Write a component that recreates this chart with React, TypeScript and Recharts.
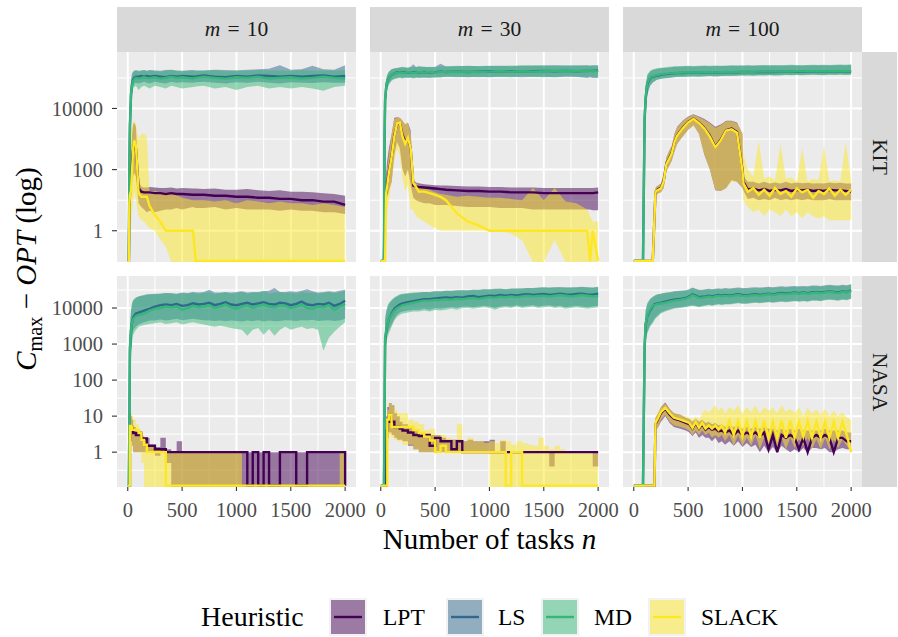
import React from "react";
import { ComposedChart, Area, Line, XAxis, YAxis, CartesianGrid } from "recharts";

// ---------------- data: KIT, m = 10 ----------------
const kit10N = [1, 10, 15, 20, 30, 40, 50, 60, 75, 100, 125, 150, 175, 200, 250, 300, 350, 400, 450, 500, 600, 625, 700, 800, 900, 1000, 1100, 1200, 1300, 1400, 1500, 1600, 1700, 1800, 1900, 2000];
const kit10MdMid = [0, 0, 200, 3000, 30000, 60000, 80000, 90000, 100000, 95000, 100000, 105000, 100000, 98000, 105000, 95000, 100000, 110000, 100000, 105000, 95000, 100000, 110000, 100000, 95000, 105000, 100000, 110000, 95000, 100000, 105000, 95000, 100000, 110000, 100000, 95000];
const kit10MdLo = [0, 0, 50, 800, 12000, 30000, 45000, 50000, 55000, 40000, 50000, 55000, 50000, 45000, 55000, 50000, 45000, 55000, 50000, 45000, 50000, 52000, 55000, 45000, 50000, 40000, 50000, 55000, 45000, 50000, 45000, 50000, 45000, 38000, 50000, 55000];
const kit10MdHi = [0, 0, 1000, 10000, 80000, 140000, 160000, 170000, 170000, 160000, 170000, 180000, 165000, 175000, 170000, 160000, 175000, 180000, 170000, 165000, 175000, 170000, 170000, 180000, 165000, 175000, 170000, 180000, 175000, 175000, 170000, 180000, 175000, 175000, 170000, 180000];
const kit10LsMid = [0, 0, 150, 2500, 28000, 65000, 90000, 100000, 110000, 110000, 115000, 110000, 115000, 110000, 115000, 110000, 105000, 115000, 110000, 115000, 110000, 112000, 120000, 110000, 105000, 115000, 110000, 120000, 115000, 110000, 115000, 110000, 115000, 120000, 110000, 115000];
const kit10LsLo = [0, 0, 50, 700, 12000, 35000, 55000, 65000, 70000, 65000, 70000, 75000, 70000, 65000, 75000, 70000, 65000, 75000, 70000, 72000, 70000, 72000, 75000, 70000, 65000, 72000, 70000, 75000, 70000, 65000, 72000, 70000, 68000, 72000, 70000, 70000];
const kit10LsHi = [0, 0, 900, 9000, 75000, 140000, 160000, 170000, 180000, 170000, 175000, 180000, 170000, 180000, 175000, 170000, 180000, 185000, 175000, 170000, 180000, 175000, 175000, 185000, 180000, 175000, 185000, 190000, 200000, 260000, 185000, 190000, 250000, 190000, 185000, 260000];
const kit10LptMid = [0, 0, 5, 15, 60, 200, 500, 700, 500, 25, 19, 18, 18, 18, 17, 17, 16, 17, 16, 16, 15, 15, 15, 14, 14, 13, 13, 12, 12, 11, 11, 10, 10, 9, 9, 7];
const kit10LptLo = [0, 0, 2, 5, 20, 40, 60, 80, 60, 8, 6, 5, 4, 4.5, 4, 4.5, 5, 5, 5.5, 5, 6, 5.5, 5.5, 6, 5, 5.5, 5, 5, 5, 4.5, 5, 4.5, 4.5, 4, 4, 3.5];
const kit10LptHi = [0, 0, 20, 60, 300, 1500, 3000, 3500, 2500, 40, 28, 26, 26, 27, 26, 25, 25, 26, 24, 25, 24, 24, 23, 24, 22, 22, 23, 21, 20, 21, 19, 19, 18, 17, 16, 14];
const kit10SlackMid = [0, 0, 8, 15, 20, 100, 500, 900, 600, 17, 13, 13, 13, 6.5, 3.2, 2, 1, 1, 1, 1, 1, 0, 0, 0, 0, 0, 0, 0, 0, 0, 0, 0, 0, 0, 0, 0];
const kit10SlackLo = [0, 0, 0.5, 1, 2, 5, 10, 20, 10, 3, 2.2, 2, 1.5, 1.2, 1, 0.5, 0.3, 0, 0, 0, 0, 0, 0, 0, 0, 0, 0, 0, 0, 0, 0, 0, 0, 0, 0, 0];
const kit10SlackHi = [0, 0, 500, 1000, 2000, 2500, 3500, 4000, 3000, 1000, 1500, 1500, 1200, 20, 20, 18, 18, 17, 15, 12, 10, 10, 10, 9, 10, 8, 10, 9, 8, 9, 8, 8, 7, 8, 7, 6];

// ---------------- data: KIT, m = 30 ----------------
const kit30N = [1, 30, 35, 40, 50, 60, 75, 100, 125, 150, 175, 200, 225, 250, 275, 300, 325, 350, 400, 450, 500, 550, 600, 700, 800, 900, 1000, 1100, 1200, 1300, 1400, 1500, 1600, 1700, 1800, 1900, 1925, 1950, 2000];
const kit30MdMid = [0, 0, 1000, 20000, 50000, 80000, 100000, 130000, 140000, 145000, 150000, 145000, 150000, 155000, 150000, 145000, 150000, 155000, 150000, 155000, 150000, 155000, 160000, 155000, 160000, 155000, 160000, 165000, 160000, 165000, 160000, 165000, 170000, 165000, 170000, 165000, 170000, 165000, 170000];
const kit30MdLo = [0, 0, 300, 8000, 25000, 45000, 60000, 80000, 90000, 95000, 100000, 95000, 100000, 105000, 100000, 95000, 100000, 105000, 100000, 105000, 100000, 105000, 110000, 105000, 110000, 105000, 110000, 110000, 105000, 115000, 110000, 105000, 110000, 115000, 110000, 110000, 115000, 110000, 110000];
const kit30MdHi = [0, 0, 3000, 50000, 90000, 130000, 160000, 190000, 200000, 210000, 220000, 230000, 220000, 215000, 225000, 220000, 230000, 240000, 225000, 230000, 220000, 235000, 240000, 250000, 240000, 245000, 250000, 245000, 255000, 250000, 260000, 255000, 250000, 260000, 255000, 250000, 255000, 260000, 250000];
const kit30LsMid = [0, 0, 900, 18000, 48000, 78000, 100000, 128000, 140000, 150000, 150000, 150000, 155000, 150000, 150000, 150000, 155000, 150000, 155000, 150000, 155000, 160000, 155000, 160000, 155000, 160000, 165000, 160000, 165000, 160000, 165000, 170000, 165000, 170000, 165000, 170000, 170000, 170000, 175000];
const kit30LsLo = [0, 0, 300, 7000, 24000, 45000, 65000, 85000, 95000, 100000, 105000, 100000, 105000, 100000, 105000, 100000, 105000, 100000, 105000, 100000, 110000, 105000, 110000, 110000, 105000, 110000, 105000, 110000, 110000, 105000, 110000, 110000, 105000, 110000, 110000, 100000, 105000, 100000, 100000];
const kit30LsHi = [0, 0, 3000, 45000, 90000, 125000, 160000, 190000, 205000, 210000, 220000, 225000, 220000, 215000, 230000, 280000, 225000, 235000, 230000, 225000, 230000, 290000, 235000, 240000, 250000, 240000, 245000, 250000, 240000, 255000, 250000, 255000, 260000, 250000, 255000, 260000, 250000, 255000, 260000];
const kit30LptMid = [0, 0, 5, 10, 17, 35, 90, 280, 1300, 3000, 3400, 1400, 800, 1000, 500, 30, 28, 27, 26, 25, 24, 23, 22, 21, 20, 20, 19, 19, 18, 18, 18, 17, 17, 17, 17, 17, 17, 17, 18];
const kit30LptLo = [0, 0, 2, 4, 8, 13, 20, 40, 300, 800, 500, 100, 60, 100, 30, 12, 10, 9, 8, 8, 7, 7, 7, 6.5, 6, 6, 6, 5.5, 5.5, 5.5, 5, 5, 5, 5, 5, 5, 5, 4.7, 4.7];
const kit30LptHi = [0, 0, 20, 40, 80, 200, 500, 1500, 5000, 5200, 5000, 4000, 3000, 3500, 1900, 45, 38, 36, 33, 32, 31, 30, 30, 29, 28, 28, 27, 27, 26, 26, 26, 25, 25, 25, 25, 25, 25, 25, 26];
const kit30SlackMid = [0, 0, 0, 0, 17, 30, 80, 260, 1200, 3200, 3500, 1200, 700, 1100, 500, 36, 27, 19, 19, 17, 15, 12.8, 10, 3.7, 2, 1.5, 1, 1, 1, 1, 1, 1, 1, 1, 1, 1, 0, 1, 0];
const kit30SlackLo = [0, 0, 0, 0, 2, 5, 10, 40, 200, 500, 300, 50, 20, 30, 5, 4.7, 3, 2.5, 2, 1.5, 1.2, 1, 1, 1, 1, 1, 1, 1, 0.8, 0.5, 0, 0, 0.5, 0, 0, 0, 0, 0, 0];
const kit30SlackHi = [0, 0, 0, 5, 30, 100, 300, 1500, 4500, 5000, 5000, 4000, 3000, 3500, 1500, 40, 36, 30, 25, 22, 18, 16, 15, 13, 14, 13, 12, 12, 11, 10, 25, 10, 25, 9, 8, 5, 3, 2, 2];

// ---------------- data: KIT, m = 100 ----------------
const kit100N = [1, 85, 100, 110, 125, 150, 175, 200, 210, 225, 250, 275, 300, 325, 350, 375, 400, 450, 500, 550, 600, 650, 700, 750, 800, 850, 900, 950, 1000, 1010, 1050, 1100, 1150, 1200, 1250, 1300, 1350, 1400, 1450, 1500, 1550, 1600, 1650, 1700, 1750, 1800, 1850, 1900, 1950, 2000];
const kit100MdMid = [0, 0, 5000, 25000, 70000, 100000, 115000, 120000, 122000, 125000, 130000, 135000, 138000, 140000, 142000, 145000, 147000, 150000, 150000, 152000, 150000, 153000, 155000, 152000, 155000, 157000, 155000, 158000, 160000, 158000, 160000, 158000, 162000, 160000, 163000, 160000, 162000, 165000, 162000, 165000, 163000, 165000, 167000, 165000, 163000, 167000, 165000, 168000, 165000, 170000];
const kit100MdLo = [0, 0, 1500, 8000, 30000, 55000, 70000, 80000, 85000, 88000, 92000, 95000, 98000, 100000, 102000, 105000, 107000, 110000, 110000, 112000, 110000, 113000, 115000, 112000, 115000, 117000, 115000, 118000, 120000, 118000, 120000, 118000, 122000, 120000, 123000, 120000, 122000, 125000, 122000, 125000, 123000, 125000, 127000, 125000, 123000, 127000, 125000, 128000, 125000, 130000];
const kit100MdHi = [0, 0, 15000, 60000, 130000, 170000, 190000, 200000, 205000, 210000, 215000, 220000, 225000, 230000, 235000, 240000, 240000, 245000, 250000, 245000, 250000, 255000, 250000, 255000, 250000, 255000, 260000, 255000, 260000, 255000, 260000, 255000, 260000, 265000, 260000, 265000, 260000, 265000, 270000, 265000, 260000, 265000, 270000, 265000, 270000, 265000, 270000, 275000, 270000, 280000];
const kit100LsMid = [0, 0, 4500, 22000, 65000, 95000, 110000, 115000, 118000, 120000, 125000, 130000, 133000, 135000, 138000, 140000, 143000, 145000, 146000, 148000, 147000, 150000, 150000, 149000, 151000, 152000, 151000, 153000, 155000, 154000, 155000, 154000, 157000, 156000, 158000, 156000, 158000, 160000, 158000, 160000, 159000, 161000, 162000, 160000, 160000, 162000, 161000, 163000, 162000, 165000];
const kit100LsLo = [0, 0, 1400, 7500, 28000, 55000, 72000, 82000, 87000, 90000, 94000, 97000, 100000, 102000, 104000, 106000, 108000, 110000, 112000, 113000, 112000, 114000, 116000, 114000, 116000, 118000, 117000, 119000, 121000, 120000, 121000, 120000, 123000, 122000, 124000, 122000, 123000, 126000, 124000, 126000, 125000, 126000, 128000, 127000, 125000, 128000, 127000, 129000, 127000, 130000];
const kit100LsHi = [0, 0, 14000, 55000, 120000, 160000, 180000, 190000, 195000, 200000, 205000, 210000, 215000, 220000, 225000, 230000, 232000, 235000, 240000, 238000, 242000, 245000, 242000, 246000, 244000, 247000, 250000, 248000, 250000, 248000, 252000, 250000, 253000, 255000, 252000, 256000, 253000, 256000, 258000, 256000, 254000, 257000, 260000, 258000, 260000, 258000, 261000, 263000, 260000, 265000];
const kit100LptMid = [0, 0, 0, 0, 0, 0, 0, 19, 20, 23, 25, 42, 160, 230, 360, 820, 1350, 2300, 3600, 4600, 3400, 2300, 1300, 560, 950, 1950, 2200, 1700, 100, 40, 22, 24, 21, 23, 20, 22, 21, 23, 20, 22, 21, 22, 20, 21, 20, 22, 21, 21, 20, 19];
const kit100LptLo = [0, 0, 0, 0, 0, 0, 0, 14, 15, 17, 18, 25, 90, 130, 200, 400, 700, 1200, 2000, 2800, 1500, 300, 100, 21, 20, 25, 45, 40, 25, 20, 11, 12, 10, 11, 10, 12, 10, 11, 10, 11, 10, 11, 10, 10, 10, 11, 10, 10, 10, 10];
const kit100LptHi = [0, 0, 0, 0, 0, 0, 0, 25, 28, 30, 35, 70, 250, 400, 600, 1500, 2500, 4000, 5500, 6500, 5500, 4500, 3500, 2500, 3000, 4000, 4000, 3500, 1500, 60, 40, 40, 35, 40, 35, 38, 35, 40, 35, 38, 36, 37, 35, 36, 35, 38, 36, 37, 35, 35];
const kit100SlackMid = [0, 0, 0, 0, 0, 0, 0, 19, 20, 22, 24, 40, 150, 220, 340, 800, 1300, 2200, 3500, 4500, 3300, 2200, 1200, 540, 900, 1900, 2100, 1600, 90, 35, 19, 25, 15, 22, 14, 25, 16, 20, 13, 24, 18, 22, 12, 20, 16, 24, 14, 22, 15, 22];
const kit100SlackLo = [0, 0, 0, 0, 0, 0, 0, 14, 15, 16, 18, 25, 90, 130, 200, 400, 700, 1200, 2000, 2800, 1500, 300, 100, 22, 20, 25, 40, 40, 25, 10, 6, 4, 5, 3, 5, 4, 3, 5, 3, 4, 2.5, 4, 3, 2.5, 3, 2.2, 2.2, 2.2, 2.2, 2.2];
const kit100SlackHi = [0, 0, 0, 0, 0, 0, 0, 25, 27, 30, 33, 65, 240, 380, 580, 1400, 2400, 3800, 5200, 6200, 5200, 4200, 3300, 2300, 2800, 3800, 3800, 3300, 1600, 300, 100, 60, 900, 50, 60, 45, 700, 50, 55, 40, 500, 40, 50, 45, 600, 40, 45, 40, 800, 45];

// ---------------- data: NASA, m = 10 ----------------
const nasa10N = [1, 10, 20, 30, 40, 50, 75, 100, 125, 150, 175, 200, 250, 300, 350, 400, 450, 500, 550, 600, 650, 700, 750, 800, 850, 900, 950, 1000, 1050, 1100, 1150, 1200, 1250, 1300, 1350, 1400, 1450, 1500, 1550, 1600, 1650, 1700, 1750, 1800, 1850, 1900, 1950, 2000];
const nasa10MdMid = [0, 0, 800, 2500, 4000, 5000, 6000, 6500, 6500, 7000, 7500, 8500, 9500, 10000, 11000, 10500, 11000, 9000, 10000, 11500, 10500, 11000, 12000, 10000, 11000, 12500, 10500, 9500, 11000, 12000, 10000, 11500, 12500, 11000, 10500, 12000, 11500, 10000, 11000, 12500, 10000, 9500, 11000, 10500, 12000, 9000, 11000, 13000];
const nasa10MdLo = [0, 0, 100, 600, 1200, 1800, 2500, 3000, 3200, 3400, 3500, 3600, 3800, 4000, 3600, 3800, 4000, 3500, 3800, 4000, 3700, 3500, 3200, 3000, 3200, 3000, 2800, 2600, 2500, 1700, 2500, 2800, 1800, 2600, 1700, 2500, 3000, 2500, 2800, 3000, 2600, 2800, 2500, 650, 1500, 2200, 3000, 4000];
const nasa10MdHi = [0, 0, 3000, 9000, 14000, 17000, 20000, 21000, 22000, 22000, 23000, 24000, 24000, 25000, 26000, 25000, 24000, 26000, 25000, 27000, 25000, 26000, 28000, 24000, 26000, 27000, 25000, 26000, 28000, 25000, 27000, 26000, 30000, 25000, 27000, 28000, 26000, 27000, 25000, 28000, 26000, 27000, 25000, 26000, 28000, 26000, 27000, 30000];
const nasa10LsMid = [0, 0, 700, 2300, 4200, 5500, 7000, 7500, 8000, 8500, 9000, 9500, 11000, 12000, 12500, 12000, 13000, 11500, 12000, 13500, 12500, 13000, 14000, 12000, 13000, 14500, 12500, 12000, 13000, 14000, 12500, 13500, 14500, 13000, 12500, 14000, 13500, 12000, 13000, 15000, 12500, 12000, 13000, 12500, 14000, 11500, 13000, 16000];
const nasa10LsLo = [0, 0, 100, 500, 1500, 2500, 3000, 3500, 3800, 4000, 4200, 4500, 4500, 4800, 4500, 4700, 5000, 4600, 4800, 5000, 4800, 4600, 4500, 4400, 4500, 4300, 4500, 4400, 4200, 4500, 4300, 4600, 4200, 4500, 4300, 4400, 4600, 4500, 4400, 4600, 4500, 4700, 4400, 4500, 4600, 4400, 4500, 5000];
const nasa10LsHi = [0, 0, 2500, 8000, 13000, 16000, 19000, 21000, 22000, 23000, 24000, 24000, 25000, 25000, 26000, 26000, 25000, 27000, 26000, 28000, 27000, 28000, 32000, 27000, 27000, 28000, 27000, 28000, 29000, 27000, 28000, 28000, 29000, 30000, 36000, 28000, 28000, 29000, 28000, 30000, 33000, 29000, 27000, 28000, 29000, 28000, 30000, 32000];
const nasa10LptMid = [0, 0, 5, 5, 4.2, 3.4, 3, 3.4, 2.4, 2.4, 1.5, 1.5, 1.2, 1.2, 1, 1, 1, 1, 1, 1, 1, 1, 1, 1, 1, 1, 1, 1, 1, 0, 1, 0, 1, 0, 0, 1, 1, 1, 0, 0, 1, 1, 1, 1, 1, 1, 1, 0];
const nasa10LptLo = [0, 0, 2, 2, 1.5, 1, 1, 1, 1, 1, 1, 1, 0.8, 1, 0.5, 0, 0, 0, 0, 0, 0, 0, 0, 0, 0, 0, 0, 0, 0, 0, 0, 0, 0, 0, 0, 0, 0, 0, 0, 0, 0, 0, 0, 0, 0, 0, 0, 0];
const nasa10LptHi = [0, 0, 12, 10, 8, 5, 3.5, 3, 2.7, 2.5, 2.5, 1.6, 1.4, 2.5, 1.2, 1, 2, 1, 1, 1, 1, 1, 1, 1, 1, 1, 1, 1, 1, 1, 1, 1, 1, 1, 1, 1, 1, 1, 1, 1, 1, 1, 1, 1, 1, 1, 1, 1];
const nasa10SlackMid = [0, 0, 5.3, 5, 4.2, 4.2, 4.2, 3.4, 2.2, 1.6, 1, 1, 1, 1, 0, 0, 0, 0, 0, 0, 0, 0, 0, 0, 0, 0, 0, 0, 0, 0, 0, 0, 0, 0, 0, 0, 0, 0, 0, 0, 0, 0, 0, 0, 0, 0, 0, 0];
const nasa10SlackLo = [0, 0, 2, 2, 1.5, 1, 1, 1, 0.5, 0, 0, 0, 0, 0, 0, 0, 0, 0, 0, 0, 0, 0, 0, 0, 0, 0, 0, 0, 0, 0, 0, 0, 0, 0, 0, 0, 0, 0, 0, 0, 0, 0, 0, 0, 0, 0, 0, 0];
const nasa10SlackHi = [0, 0, 15, 12, 10, 8, 6, 4.2, 3, 2, 1.5, 1.5, 1.2, 1, 1, 1, 1, 1, 1, 1, 1, 1, 1, 1, 1, 1, 1, 1, 0, 0, 0, 0, 0, 0, 0, 0, 0, 0, 0, 0, 0, 0, 0, 0, 0, 0, 1, 1];

// ---------------- data: NASA, m = 30 ----------------
const nasa30N = [1, 30, 40, 50, 60, 75, 100, 125, 150, 175, 200, 250, 300, 350, 400, 450, 500, 550, 600, 650, 700, 750, 800, 850, 900, 950, 1000, 1050, 1100, 1150, 1200, 1250, 1300, 1350, 1400, 1450, 1500, 1550, 1600, 1650, 1700, 1750, 1800, 1850, 1900, 1950, 2000];
const nasa30MdMid = [0, 0, 1500, 2400, 3500, 5000, 6500, 8500, 10000, 11000, 12000, 13000, 14000, 15000, 16000, 16000, 16700, 17000, 17500, 17000, 18000, 17500, 18500, 19000, 18000, 19000, 20000, 19500, 20500, 20000, 21000, 20000, 21000, 22000, 21000, 21500, 22000, 21000, 22000, 23000, 22000, 21000, 22000, 23000, 22000, 21000, 22000];
const nasa30MdLo = [0, 0, 400, 900, 1500, 2000, 3000, 4500, 5700, 6500, 7000, 7500, 8000, 8000, 8500, 8000, 8800, 8500, 9000, 9500, 9000, 9800, 10000, 9500, 10000, 10500, 10000, 9000, 10000, 10500, 10000, 11000, 10000, 10500, 11000, 10000, 10500, 11000, 10000, 10500, 9500, 10000, 10500, 10000, 9500, 10000, 10500];
const nasa30MdHi = [0, 0, 5000, 8000, 11000, 14000, 17000, 20000, 22000, 24000, 25000, 26000, 27000, 27000, 28000, 27000, 29000, 28000, 30000, 29000, 30000, 31000, 30000, 32000, 31000, 33000, 32000, 33000, 34000, 33000, 35000, 34000, 35000, 36000, 35000, 36000, 37000, 36000, 37000, 38000, 37000, 36000, 37000, 38000, 37000, 36000, 38000];
const nasa30LsMid = [0, 0, 1200, 2200, 3300, 5000, 7000, 9500, 11000, 12500, 13500, 14500, 15500, 16500, 17500, 17500, 18500, 19000, 19500, 19000, 20000, 19500, 21000, 21500, 20000, 21000, 22000, 21500, 23000, 22000, 23000, 22500, 23500, 24000, 23000, 24000, 24500, 23000, 24000, 25000, 24000, 23500, 24500, 25000, 24000, 23500, 25000];
const nasa30LsLo = [0, 0, 500, 1000, 1800, 2500, 3500, 5000, 6500, 7500, 8000, 8500, 9000, 9000, 9500, 9000, 9800, 9500, 10000, 10500, 10000, 10800, 11000, 10500, 11000, 11500, 11000, 10000, 11000, 11500, 11000, 12000, 11000, 11500, 12000, 11000, 11500, 12000, 11000, 11500, 10500, 11000, 11500, 11000, 10500, 11000, 11500];
const nasa30LsHi = [0, 0, 4500, 7500, 10000, 13000, 16000, 19000, 21000, 23000, 24000, 25000, 26000, 27000, 28000, 28000, 29000, 29000, 30000, 30000, 31000, 31000, 31000, 32000, 32000, 33000, 33000, 34000, 34000, 33000, 34000, 35000, 35000, 36000, 36000, 37000, 38000, 37000, 38000, 38000, 37000, 38000, 38000, 39000, 38000, 37000, 39000];
const nasa30LptMid = [0, 0, 0, 4, 7, 10, 7, 5, 5, 4.5, 4, 3.5, 3, 2.8, 3, 1.5, 2.5, 2, 2, 1.2, 2, 1, 1, 1, 1, 1, 1, 1, 1, 1, 1, 1, 1, 1, 1, 1, 1, 1, 1, 1, 1, 1, 1, 1, 1, 1, 1];
const nasa30LptLo = [0, 0, 0, 1.5, 2.5, 3.5, 3, 2.5, 2.2, 2.2, 2, 1.5, 1.2, 1, 1, 1, 1, 1, 1, 1, 1, 1, 1, 1, 1, 1, 1, 1, 1, 1, 1, 1, 1, 1, 1, 1, 1, 0.4, 1, 1, 1, 1, 1, 1, 1, 0.4, 1];
const nasa30LptHi = [0, 0, 0, 10, 18, 23, 20, 12, 10, 7, 6, 5, 4, 3.5, 3, 3, 3, 2.5, 2.2, 2.2, 2.2, 2, 2.2, 2, 2, 2, 2.2, 1, 2, 1, 1, 1, 1, 1, 1, 1, 1, 1, 1, 1, 1, 1, 1, 1, 1, 1, 1];
const nasa30SlackMid = [0, 0, 0, 0, 8, 10.6, 5, 5, 5, 5, 5, 5, 4.1, 3.4, 2.7, 2.1, 1, 1.5, 1, 1, 1, 1, 1, 1, 1, 1, 1, 1, 1, 0, 1, 1, 0, 0, 0, 0, 0, 0, 0, 0, 0, 0, 0, 0, 0, 0, 0];
const nasa30SlackLo = [0, 0, 0, 0, 2, 3, 2.5, 2.2, 2, 2, 1.6, 1.6, 1.2, 1, 1, 1, 1, 1, 1, 1, 1, 1, 1, 1, 1, 1, 0, 0, 0, 0, 0, 0, 0, 0, 0, 0, 0, 0, 0, 0, 0, 0, 0, 0, 0, 0, 0];
const nasa30SlackHi = [0, 0, 0, 0, 15, 23, 20, 15, 12, 12, 12, 8, 7, 6, 4.1, 4.5, 3, 3, 2.5, 2.2, 6, 2, 2.5, 2, 2, 1.8, 2, 1.8, 2.2, 2, 1.6, 2, 1.8, 1.6, 1.5, 2.5, 1.5, 1.2, 1.5, 1.2, 1, 1, 1, 1, 1, 1, 1];

// ---------------- data: NASA, m = 100 ----------------
const nasa100N = [1, 85, 100, 110, 125, 150, 175, 190, 200, 225, 250, 290, 330, 370, 430, 480, 510, 540, 570, 600, 630, 660, 690, 720, 750, 780, 810, 840, 880, 920, 960, 1000, 1040, 1080, 1120, 1160, 1200, 1240, 1280, 1320, 1360, 1400, 1440, 1480, 1520, 1560, 1600, 1640, 1680, 1720, 1760, 1800, 1840, 1880, 1920, 1960, 2000];
const nasa100MdMid = [0, 0, 1000, 3800, 6500, 9000, 11500, 12000, 12500, 13000, 13400, 14000, 15000, 16000, 17000, 18300, 20000, 23000, 21000, 19000, 19500, 20000, 21000, 20000, 21000, 22000, 21000, 22000, 21000, 22000, 23000, 22000, 21500, 22500, 23000, 22000, 23000, 24000, 23000, 24000, 25000, 24000, 25000, 26000, 25000, 26000, 25000, 26000, 27000, 26000, 27000, 28000, 27000, 26000, 28000, 27000, 30000];
const nasa100MdLo = [0, 0, 300, 1200, 2000, 3000, 3800, 4500, 5000, 6000, 7000, 8000, 8800, 9500, 10000, 10500, 11000, 11500, 11000, 10500, 11000, 11500, 12000, 11500, 12000, 12500, 12000, 12500, 12500, 13000, 13500, 13000, 13000, 13500, 14000, 13500, 14000, 14500, 14000, 14500, 15000, 14500, 15000, 15500, 15000, 15500, 15000, 16000, 16000, 15500, 16500, 17000, 16500, 16000, 17000, 16500, 18000];
const nasa100MdHi = [0, 0, 3000, 9000, 14000, 18000, 21000, 22000, 23000, 24000, 25000, 26000, 27000, 28000, 29000, 30000, 32000, 36000, 33000, 31000, 31000, 32000, 33000, 32000, 33000, 34000, 33000, 34000, 33000, 34000, 35000, 34000, 34000, 35000, 36000, 35000, 36000, 37000, 36000, 37000, 38000, 37000, 38000, 39000, 38000, 39000, 38000, 40000, 40000, 39000, 41000, 42000, 41000, 40000, 42000, 41000, 45000];
const nasa100LsMid = [0, 0, 800, 3500, 6000, 8500, 11000, 12500, 13000, 13500, 14000, 15000, 16000, 17000, 18000, 19000, 21000, 24000, 22000, 20000, 20500, 21000, 22000, 21000, 22000, 23000, 22000, 23000, 22000, 23000, 24000, 23000, 22500, 23500, 24000, 23000, 24000, 25000, 24000, 25000, 26000, 25000, 26000, 27000, 26000, 27000, 26000, 27000, 28000, 27000, 28000, 29000, 28000, 27000, 29000, 28000, 31000];
const nasa100LsLo = [0, 0, 350, 1300, 2200, 3300, 4200, 5000, 5500, 6500, 7500, 8500, 9300, 10000, 10500, 11000, 11500, 12000, 11500, 11000, 11500, 12000, 12500, 12000, 12500, 13000, 12500, 13000, 13000, 13500, 14000, 13500, 13500, 14000, 14500, 14000, 14500, 15000, 14500, 15000, 15500, 15000, 15500, 16000, 15500, 16000, 15500, 16500, 16500, 16000, 17000, 17500, 17000, 16500, 17500, 17000, 18500];
const nasa100LsHi = [0, 0, 2800, 8500, 13000, 17000, 20000, 21500, 22500, 24000, 25000, 26500, 27500, 29000, 30000, 31000, 33000, 37000, 34000, 32000, 32000, 33000, 34000, 33000, 34000, 35000, 34000, 36000, 35000, 36000, 37000, 36000, 36000, 37000, 38000, 37000, 38000, 39000, 38000, 39000, 40000, 39000, 40000, 41000, 40000, 41000, 40000, 42000, 42000, 41000, 43000, 44000, 43000, 42000, 44000, 43000, 46000];
const nasa100LptMid = [0, 0, 0, 0, 0, 0, 0, 0, 6, 8.5, 12, 16, 11, 8.5, 7.5, 6.5, 6, 4.5, 6.5, 4.5, 6, 4.2, 5, 4.2, 4.5, 3.8, 4, 3.5, 4, 3, 4, 3, 3.5, 3, 3.5, 2.8, 3.5, 1.2, 3, 1, 3, 2.5, 3, 2.5, 1.2, 2.5, 1, 2.5, 3, 2.5, 3, 2.5, 1, 2.5, 2.5, 2, 2];
const nasa100LptLo = [0, 0, 0, 0, 0, 0, 0, 0, 4, 5, 7, 10, 6.5, 5, 4.5, 4, 3.5, 2.8, 3.5, 2.5, 3, 2.5, 2.5, 2, 2.5, 1.8, 2, 1.6, 2, 1.5, 2, 1.4, 1.8, 1.4, 1.6, 1, 1.5, 1, 1.4, 1, 1.5, 1.2, 1, 1.2, 1, 1.3, 1, 1.3, 1.3, 1.2, 1.3, 1, 1, 1.2, 1.3, 1.2, 1.2];
const nasa100LptHi = [0, 0, 0, 0, 0, 0, 0, 0, 9, 12, 18, 24, 16, 12, 11, 9, 8.5, 7, 8.5, 7, 8, 6.5, 7, 6, 6.5, 5.5, 6, 5, 5.5, 5, 5.5, 4.5, 5, 4.5, 5, 4.5, 5, 4.5, 4.5, 4, 4.5, 4, 4.5, 4, 4.5, 4, 4, 4, 4, 4, 4.5, 4, 4, 4, 4, 3.5, 3.5];
const nasa100SlackMid = [0, 0, 0, 0, 0, 0, 0, 0, 6.5, 9, 13, 17, 12, 9, 8, 7, 6.5, 4.7, 7, 4.7, 6.5, 4.5, 5.5, 4.5, 5.5, 4.2, 5.5, 3.5, 7.5, 3, 7.5, 2.8, 7.5, 2.7, 7.5, 2.5, 7.5, 2.5, 7, 2.5, 7.5, 2.5, 7.5, 2.5, 7, 2.7, 7.5, 2.5, 7, 2.5, 7, 2.5, 7, 2.5, 7, 3, 1];
const nasa100SlackLo = [0, 0, 0, 0, 0, 0, 0, 0, 4, 5, 8, 11, 7, 5.5, 5, 4.5, 4, 3, 4, 3, 4, 3, 3.5, 2.5, 3, 2.5, 3, 2, 3, 1.5, 3, 1.5, 2.5, 1.5, 3, 1.2, 2.5, 1.3, 2.5, 1.3, 2.5, 1.2, 2.5, 1.3, 2.3, 1.5, 2.5, 1.2, 2.3, 1.2, 2.5, 1.2, 2.2, 1.3, 2.2, 1.5, 1];
const nasa100SlackHi = [0, 0, 0, 0, 0, 0, 0, 0, 9, 13, 18, 22, 16, 12, 11, 10, 9, 8, 10, 8, 12, 15, 12, 16, 20, 14, 18, 12, 18, 14, 20, 12, 18, 13, 20, 12, 18, 14, 17, 12, 20, 13, 16, 12, 18, 10, 17, 12, 15, 11, 16, 10, 14, 10, 13, 9, 8];

// ---------------- layout / styles ----------------
const FONT = "'Liberation Serif', 'Times New Roman', serif";
const HEURISTICS = ["LPT", "LS", "MD", "SLACK"];
const COLORS: Record<string, string> = { LPT: "#440154", LS: "#31688E", MD: "#35B779", SLACK: "#FDE725" };
const PANEL_W = 239;
const X_MAJOR = [0, 500, 1000, 1500, 2000];
const X_MINOR = [250, 750, 1250, 1750];

const ROWS = [
  { label: "KIT", top: 52, height: 210, domain: [0.095, 703000], major: [1, 100, 10000], minor: [10, 1000, 100000] },
  { label: "NASA", top: 276, height: 211, domain: [0.108, 77400], major: [1, 10, 100, 1000, 10000], minor: [0.316, 3.16, 31.6, 316, 3162, 31623] },
];
const COLS = [
  { label: "10", left: 117 },
  { label: "30", left: 370 },
  { label: "100", left: 623 },
];

const PANELS = [
  { row: 0, col: 0, step: false, n: kit10N, series: { LPT: [kit10LptLo, kit10LptMid, kit10LptHi], LS: [kit10LsLo, kit10LsMid, kit10LsHi], MD: [kit10MdLo, kit10MdMid, kit10MdHi], SLACK: [kit10SlackLo, kit10SlackMid, kit10SlackHi] } },
  { row: 0, col: 1, step: false, n: kit30N, series: { LPT: [kit30LptLo, kit30LptMid, kit30LptHi], LS: [kit30LsLo, kit30LsMid, kit30LsHi], MD: [kit30MdLo, kit30MdMid, kit30MdHi], SLACK: [kit30SlackLo, kit30SlackMid, kit30SlackHi] } },
  { row: 0, col: 2, step: false, n: kit100N, series: { LPT: [kit100LptLo, kit100LptMid, kit100LptHi], LS: [kit100LsLo, kit100LsMid, kit100LsHi], MD: [kit100MdLo, kit100MdMid, kit100MdHi], SLACK: [kit100SlackLo, kit100SlackMid, kit100SlackHi] } },
  { row: 1, col: 0, step: true, n: nasa10N, series: { LPT: [nasa10LptLo, nasa10LptMid, nasa10LptHi], LS: [nasa10LsLo, nasa10LsMid, nasa10LsHi], MD: [nasa10MdLo, nasa10MdMid, nasa10MdHi], SLACK: [nasa10SlackLo, nasa10SlackMid, nasa10SlackHi] } },
  { row: 1, col: 1, step: true, n: nasa30N, series: { LPT: [nasa30LptLo, nasa30LptMid, nasa30LptHi], LS: [nasa30LsLo, nasa30LsMid, nasa30LsHi], MD: [nasa30MdLo, nasa30MdMid, nasa30MdHi], SLACK: [nasa30SlackLo, nasa30SlackMid, nasa30SlackHi] } },
  { row: 1, col: 2, step: false, n: nasa100N, series: { LPT: [nasa100LptLo, nasa100LptMid, nasa100LptHi], LS: [nasa100LsLo, nasa100LsMid, nasa100LsHi], MD: [nasa100MdLo, nasa100MdMid, nasa100MdHi], SLACK: [nasa100SlackLo, nasa100SlackMid, nasa100SlackHi] } },
];

const tickStyle = { fill: "#4D4D4D", fontSize: 20.5, fontFamily: FONT };

function Panel({ p }: { p: any }) {
  const row = ROWS[p.row];
  const col = COLS[p.col];
  const yw = p.col === 0 ? 80 : 0;
  const xh = p.row === 1 ? 45 : 0;
  const mr = p.row === 1 ? 24 : 0; // room for the last x tick label
  const floor = row.domain[0];
  // a zero on the log axis sits on the panel's lower edge (ggplot's -Inf);
  // lines are lifted by a pixel so they stay visible there
  const f = (v: number) => (v > floor ? v : floor);
  const fl = (v: number) => (v > floor ? v : floor * 1.09);
  const data = p.n.map((x: number, i: number) => {
    const r: any = { n: x };
    for (const k of HEURISTICS) {
      const [lo, mid, hi] = p.series[k];
      r[k + "band"] = [f(lo[i]), f(hi[i])];
      r[k] = fl(mid[i]);
    }
    return r;
  });
  const lowType = p.step ? "stepAfter" : "linear";
  const typeOf = (k: string) => (k === "LPT" || k === "SLACK" ? lowType : "linear");

  return (
    <div style={{ position: "absolute", left: col.left - yw, top: row.top }}>
      <ComposedChart width={PANEL_W + yw + mr} height={row.height + xh} data={data} margin={{ top: 0, right: mr, bottom: 0, left: 0 }}>
        <CartesianGrid fill="#EBEBEB" stroke="#FFFFFF" strokeWidth={1} horizontalValues={row.minor} verticalValues={X_MINOR} />
        <CartesianGrid stroke="#FFFFFF" strokeWidth={2} horizontalValues={row.major} verticalValues={X_MAJOR} />
        <XAxis
          type="number"
          dataKey="n"
          domain={[-99, 2100]}
          allowDataOverflow
          ticks={X_MAJOR}
          interval={0}
          hide={p.row === 0}
          height={xh}
          axisLine={false}
          tickSize={4}
          tickMargin={11}
          tickLine={{ stroke: "#333333", strokeWidth: 1.1 }}
          tick={tickStyle}
        />
        <YAxis
          type="number"
          scale="log"
          domain={row.domain}
          allowDataOverflow
          ticks={row.major}
          interval={0}
          hide={p.col > 0}
          width={yw}
          axisLine={false}
          tickSize={5}
          tickMargin={9}
          tickLine={{ stroke: "#333333", strokeWidth: 1.1 }}
          tick={tickStyle}
        />
        {HEURISTICS.map((k) => (
          <Area
            key={k + "band"}
            dataKey={k + "band"}
            type={typeOf(k) as any}
            fill={COLORS[k]}
            fillOpacity={0.5}
            stroke="none"
            isAnimationActive={false}
            activeDot={false}
          />
        ))}
        {HEURISTICS.map((k) => (
          <Line
            key={k}
            dataKey={k}
            type={typeOf(k) as any}
            stroke={COLORS[k]}
            strokeWidth={2.4}
            dot={false}
            activeDot={false}
            isAnimationActive={false}
          />
        ))}
      </ComposedChart>
    </div>
  );
}

function LegendKey({ color, left }: { color: string; left: number }) {
  return (
    <svg width={38} height={38} style={{ position: "absolute", left, top: 598 }}>
      <rect x={0} y={0} width={38} height={38} fill="#F2F2F2" />
      <rect x={2} y={2} width={34} height={34} fill={color} fillOpacity={0.5} />
      <line x1={5} x2={33} y1={19} y2={19} stroke={color} strokeWidth={2.4} />
    </svg>
  );
}

const KEY_LEFT = [329, 446, 541, 648];
const LABEL_LEFT = [383, 498, 594, 701];

export default function App() {
  return (
    <div style={{ position: "absolute", left: 0, top: 0, width: 898, height: 637, background: "#FFFFFF", fontFamily: FONT, color: "#1A1A1A", overflow: "hidden" }}>
      {COLS.map((c) => (
        <div key={"strip" + c.label} style={{ position: "absolute", left: c.left, top: 7, width: PANEL_W, height: 45, background: "#D9D9D9", display: "flex", alignItems: "center", justifyContent: "center", fontSize: 21.5, color: "#1A1A1A", whiteSpace: "nowrap" }}>
          <i>m</i>
          <span>{"\u2004=\u2004" + c.label}</span>
        </div>
      ))}
      {ROWS.map((r) => (
        <div key={"rstrip" + r.label} style={{ position: "absolute", left: 862, top: r.top, width: 35, height: r.height, background: "#D9D9D9" }}>
          <div style={{ position: "absolute", left: "50%", top: "50%", transform: "translate(-50%, -50%) rotate(90deg)", fontSize: 21.5, whiteSpace: "nowrap", lineHeight: "24px" }}>{r.label}</div>
        </div>
      ))}
      {PANELS.map((p, i) => (
        <Panel key={i} p={p} />
      ))}
      <div style={{ position: "absolute", left: 27, top: 269, transform: "translate(-50%, -50%) rotate(-90deg)", fontSize: 29, whiteSpace: "nowrap", lineHeight: "32px", color: "#000" }}>
        <i>C</i>
        <span style={{ fontSize: "0.7em", position: "relative", top: "0.3em" }}>max</span>
        {" \u2212 "}
        <i>OPT</i>
        {" (log)"}
      </div>
      <div style={{ position: "absolute", left: 117, width: 745, top: 523, textAlign: "center", fontSize: 29, lineHeight: "32px", whiteSpace: "nowrap", color: "#000" }}>
        Number of tasks <i>n</i>
      </div>
      <div style={{ position: "absolute", left: 201, top: 598, height: 38, lineHeight: "38px", fontSize: 28, color: "#000" }}>Heuristic</div>
      {HEURISTICS.map((k, i) => (
        <LegendKey key={"key" + k} color={COLORS[k]} left={KEY_LEFT[i]} />
      ))}
      {HEURISTICS.map((k, i) => (
        <div key={"lab" + k} style={{ position: "absolute", left: LABEL_LEFT[i], top: 598, height: 38, lineHeight: "38px", fontSize: 23.5, color: "#000" }}>
          {k}
        </div>
      ))}
    </div>
  );
}
